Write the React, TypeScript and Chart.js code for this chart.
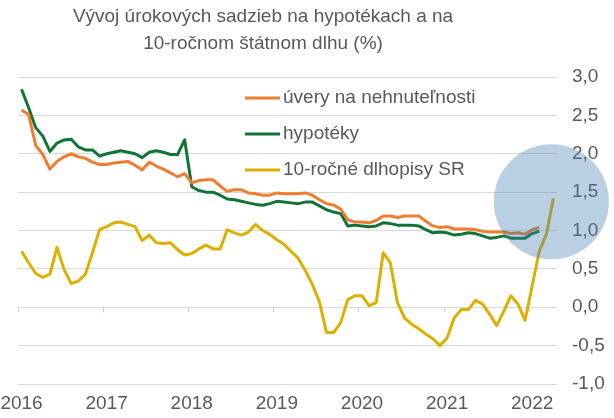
import React, { useEffect, useRef } from "react";
import { Chart, registerables } from "chart.js";

Chart.register(...registerables);

const TITLE = ["Vývoj úrokových sadzieb na hypotékach a na", "10-ročnom štátnom dlhu (%)"];
const YEARS = ["2016", "2017", "2018", "2019", "2020", "2021", "2022"];
const MONTHS_IN_LAST_YEAR = 4;
const SERIES_NAMES = ["úvery na nehnuteľnosti", "hypotéky", "10-ročné dlhopisy SR"];
const COLORS = ["#ED7D31", "#117338", "#DDB000"];

// monthly categories Jan 2016 .. Apr 2022
const CATEGORIES: string[] = [];
YEARS.forEach((y, yi) => {
  const n = yi === YEARS.length - 1 ? MONTHS_IN_LAST_YEAR : 12;
  for (let m = 1; m <= n; m++) CATEGORIES.push(`${y}-${String(m).padStart(2, "0")}`);
});

const UVERY = [
  2.57, 2.51, 2.11, 1.99, 1.80, 1.90, 1.96, 2.00, 1.96, 1.94, 1.89, 1.86,
  1.86, 1.88, 1.89, 1.90, 1.85, 1.79, 1.89, 1.84, 1.80, 1.75, 1.70, 1.74,
  1.62, 1.65, 1.66, 1.66, 1.58, 1.51, 1.53, 1.53, 1.49, 1.48, 1.46, 1.46,
  1.49, 1.48, 1.48, 1.48, 1.49, 1.46, 1.40, 1.35, 1.33, 1.28, 1.14, 1.11,
  1.11, 1.10, 1.13, 1.19, 1.19, 1.17, 1.19, 1.19, 1.19, 1.12, 1.06, 1.04,
  1.05, 1.02, 1.02, 1.02, 1.01, 0.99, 0.98, 0.98, 0.98, 0.96, 0.97, 0.95,
  1.01, 1.04, null, null,
];

const HYPOTEKY = [
  2.84, 2.60, 2.34, 2.23, 2.03, 2.14, 2.18, 2.19, 2.09, 2.05, 2.05, 1.97,
  2.00, 2.02, 2.04, 2.02, 2.00, 1.95, 2.02, 2.04, 2.02, 1.99, 1.99, 2.18,
  1.57, 1.52, 1.50, 1.50, 1.46, 1.41, 1.40, 1.38, 1.36, 1.34, 1.33, 1.35,
  1.38, 1.37, 1.36, 1.35, 1.37, 1.37, 1.32, 1.27, 1.24, 1.22, 1.06, 1.07,
  1.06, 1.05, 1.06, 1.10, 1.09, 1.07, 1.07, 1.07, 1.06, 1.01, 0.97, 0.98,
  0.97, 0.94, 0.95, 0.97, 0.96, 0.93, 0.90, 0.91, 0.93, 0.90, 0.90, 0.90,
  0.96, 0.99, null, null,
];

const DLHOPISY = [
  0.73, 0.58, 0.44, 0.39, 0.43, 0.78, 0.49, 0.31, 0.34, 0.43, 0.71, 1.01,
  1.05, 1.10, 1.11, 1.08, 1.05, 0.87, 0.94, 0.84, 0.83, 0.84, 0.75, 0.68,
  0.70, 0.76, 0.81, 0.76, 0.76, 1.01, 0.97, 0.94, 0.98, 1.08, 1.00, 0.95,
  0.88, 0.82, 0.73, 0.64, 0.48, 0.30, 0.07, -0.33, -0.33, -0.20, 0.10, 0.15,
  0.15, 0.02, 0.06, 0.71, 0.58, 0.06, -0.14, -0.22, -0.28, -0.35, -0.41, -0.50,
  -0.40, -0.14, -0.03, -0.03, 0.09, 0.04, -0.09, -0.24, -0.05, 0.15, 0.04, -0.17,
  0.28, 0.73, 0.95, 1.42,
];

const Y_MIN = -1;
const Y_MAX = 3;
const Y_STEP = 0.5;
// highlight circle (centre in data units, radius in y-units)
const HIGHLIGHT_X = 74.7;
const HIGHLIGHT_Y = 1.375;
const HIGHLIGHT_R = 0.75;

const FONT = "'Liberation Sans', Arial, sans-serif";
const TEXT = "#595959";

export default function App() {
  const ref = useRef<HTMLCanvasElement | null>(null);

  useEffect(() => {
    document.body.style.margin = "0";
    const canvas = ref.current;
    if (!canvas) return;

    const overlay = {
      id: "overlay",
      beforeDatasetsDraw(chart: any) {
        const { ctx } = chart;
        const xs = chart.scales.x;
        const ys = chart.scales.y;
        const half = (xs.getPixelForValue(1) - xs.getPixelForValue(0)) / 2;
        const y0 = ys.getPixelForValue(0);
        ctx.save();
        ctx.strokeStyle = "#D0D0D0";
        ctx.lineWidth = 1;
        for (let i = 0; i < CATEGORIES.length; i += 12) {
          const x = Math.round(xs.getPixelForValue(i) - half) + 0.5;
          ctx.beginPath();
          ctx.moveTo(x, y0);
          ctx.lineTo(x, y0 + 5);
          ctx.stroke();
        }
        ctx.restore();
      },
      afterDatasetsDraw(chart: any) {
        const { ctx, chartArea } = chart;
        const xs = chart.scales.x;
        const ys = chart.scales.y;
        ctx.save();
        // title
        ctx.font = `19px ${FONT}`;
        ctx.fillStyle = TEXT;
        ctx.textAlign = "center";
        ctx.textBaseline = "middle";
        const tcx = chartArea.left + 245;
        TITLE.forEach((line, i) => ctx.fillText(line, tcx, 17 + i * 27));
        // legend
        ctx.textAlign = "left";
        const ly = [21, 57, 93];
        SERIES_NAMES.forEach((name, i) => {
          const y = chartArea.top + ly[i];
          ctx.strokeStyle = COLORS[i];
          ctx.lineWidth = 3;
          ctx.beginPath();
          ctx.moveTo(chartArea.left + 227, y);
          ctx.lineTo(chartArea.left + 262, y);
          ctx.stroke();
          ctx.fillStyle = TEXT;
          ctx.fillText(name, chartArea.left + 265, y);
        });
        // highlight circle
        const step = xs.getPixelForValue(1) - xs.getPixelForValue(0);
        const cx = xs.getPixelForValue(Math.floor(HIGHLIGHT_X)) + (HIGHLIGHT_X - Math.floor(HIGHLIGHT_X)) * step;
        const cy = ys.getPixelForValue(HIGHLIGHT_Y);
        const r = ys.getPixelForValue(0) - ys.getPixelForValue(HIGHLIGHT_R);
        ctx.fillStyle = "rgba(64,121,172,0.36)";
        ctx.beginPath();
        ctx.arc(cx, cy, r, 0, Math.PI * 2);
        ctx.fill();
        ctx.restore();
      },
    };

    const chart = new Chart(canvas, {
      type: "line",
      data: {
        labels: CATEGORIES,
        datasets: [
          { label: SERIES_NAMES[0], data: UVERY, borderColor: COLORS[0] },
          { label: SERIES_NAMES[1], data: HYPOTEKY, borderColor: COLORS[1] },
          { label: SERIES_NAMES[2], data: DLHOPISY, borderColor: COLORS[2] },
        ].map((d) => ({
          ...d,
          borderWidth: 3,
          pointRadius: 0,
          tension: 0,
          fill: false,
          spanGaps: false,
          borderJoinStyle: "round" as const,
        })),
      },
      options: {
        responsive: false,
        animation: false,
        layout: { padding: { left: 18, right: 0, top: 77, bottom: 0 } },
        plugins: {
          legend: { display: false },
          tooltip: { enabled: false },
          title: { display: false },
        },
        scales: {
          x: {
            type: "category",
            offset: true,
            grid: { display: false, drawTicks: false },
            border: { display: false },
            ticks: {
              autoSkip: false,
              maxRotation: 0,
              minRotation: 0,
              padding: 8,
              color: TEXT,
              font: { family: FONT, size: 19 },
              callback: (_v: any, i: number) => (i % 12 === 0 ? YEARS[i / 12] : ""),
            },
            afterFit: (s: any) => {
              s.paddingLeft = 0;
              s.paddingRight = 0;
              s.height = 34;
            },
          },
          y: {
            position: "right",
            min: Y_MIN,
            max: Y_MAX,
            grid: { color: "#D9D9D9", lineWidth: 1, drawTicks: false },
            border: { display: false },
            ticks: {
              stepSize: Y_STEP,
              padding: 15,
              color: TEXT,
              font: { family: FONT, size: 19 },
              callback: (v: any) => Number(v).toFixed(1).replace(".", ","),
            },
            afterFit: (s: any) => {
              s.width = 57;
            },
          },
        },
      },
      plugins: [overlay],
    });

    return () => chart.destroy();
  }, []);

  return (
    <div style={{ width: 614, height: 418, position: "relative" }}>
      <canvas ref={ref} width={614} height={418} style={{ width: 614, height: 418, display: "block" }} />
    </div>
  );
}
